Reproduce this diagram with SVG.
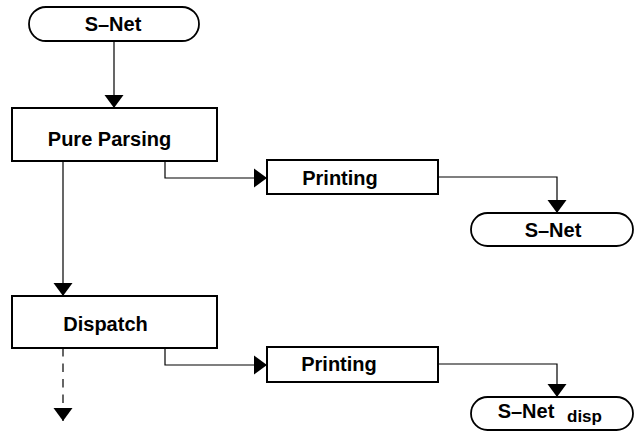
<svg xmlns="http://www.w3.org/2000/svg" width="635" height="432" viewBox="0 0 635 432">
<style>
.box{fill:#fff;stroke:#000;stroke-width:2}
.pill{fill:#fff;stroke:#000;stroke-width:1.8}
.lbl{font-family:"Liberation Sans",Arial,Helvetica,sans-serif;font-weight:bold;font-size:20px;fill:#000;text-anchor:middle}
.sub{font-family:"Liberation Sans",Arial,Helvetica,sans-serif;font-weight:bold;font-size:17px;fill:#000}
.con{fill:none;stroke:#000;stroke-width:1.2}
.dash{stroke-dasharray:8.5 7}
</style>
<defs>
<marker id="arr" markerUnits="userSpaceOnUse" markerWidth="14" markerHeight="20" refX="13" refY="10" orient="auto">
<path d="M0,0.5 L13,10 L0,19.5 Z" fill="#000"/>
</marker>
</defs>
<rect width="635" height="432" fill="#fff"/>
<g id="connectors">
<path class="con" d="M114,41 V108" marker-end="url(#arr)"/>
<path class="con" d="M165,161 V178 H267" marker-end="url(#arr)"/>
<path class="con" d="M438,177 H557 V213" marker-end="url(#arr)"/>
<path class="con" d="M63,161 V296" marker-end="url(#arr)"/>
<path class="con" d="M165,348 V365 H267" marker-end="url(#arr)"/>
<path class="con" d="M438,364 H557 V397" marker-end="url(#arr)"/>
<path class="con dash" d="M63,348 V408"/>
<path class="con" d="M63,408 V421" marker-end="url(#arr)"/>
</g>
<g id="snet-top">
<rect class="pill" x="29" y="7" width="170" height="34" rx="17" ry="17"/>
<text class="lbl" x="113" y="31">S–Net</text>
</g>
<g id="pure-parsing">
<rect class="box" x="12" y="108" width="205" height="53"/>
<text class="lbl" x="109.5" y="146">Pure Parsing</text>
</g>
<g id="printing-1">
<rect class="box" x="267" y="160" width="171" height="34"/>
<text class="lbl" x="340" y="185">Printing</text>
</g>
<g id="snet-out">
<rect class="pill" x="471" y="213" width="162" height="33" rx="16.5" ry="16.5"/>
<text class="lbl" x="553" y="237">S–Net</text>
</g>
<g id="dispatch">
<rect class="box" x="12" y="296" width="205" height="52"/>
<text class="lbl" x="105.5" y="331">Dispatch</text>
</g>
<g id="printing-2">
<rect class="box" x="267" y="347" width="171" height="35"/>
<text class="lbl" x="339" y="371">Printing</text>
</g>
<g id="snet-disp">
<rect class="pill" x="471" y="397" width="162" height="33" rx="16.5" ry="16.5"/>
<text class="lbl" x="526" y="418">S–Net</text>
<text class="sub" x="567" y="422">disp</text>
</g>
</svg>
